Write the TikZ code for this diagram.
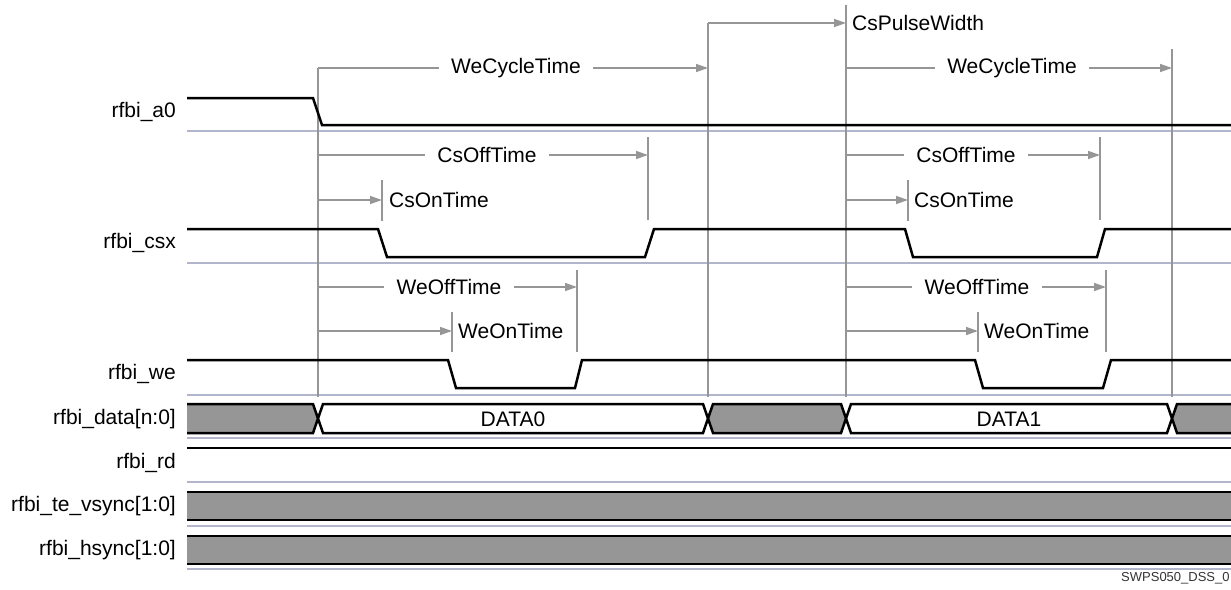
\documentclass[tikz,border=0pt]{standalone}
\usepackage{fontspec}
\setmainfont{Liberation Sans}
\usetikzlibrary{arrows.meta}
\definecolor{tline}{RGB}{150,150,150}
\definecolor{sepc}{RGB}{178,182,204}
\definecolor{busfill}{RGB}{150,150,150}
\tikzset{
  sig/.style={line width=2.5pt, black, line join=miter},
  sepline/.style={line width=2pt, sepc},
  tl/.style={line width=1.5pt, tline},
  tarr/.style={tl, -{Triangle[length=12pt,width=8pt]}},
  signame/.style={font=\fontsize{21}{25}\selectfont, inner sep=0pt, anchor=east},
  midlab/.style={font=\fontsize{21}{25}\selectfont, inner ysep=0pt, inner xsep=12pt},
  sidelab/.style={font=\fontsize{21}{25}\selectfont, inner sep=0pt, anchor=west},
  buslab/.style={font=\fontsize{21}{25}\selectfont, inner sep=0pt},
  busgray/.style={fill=busfill, draw=black, line width=2.5pt, line join=miter},
  buswhite/.style={fill=white, draw=black, line width=2.5pt, line join=miter},
}
\begin{document}
\begin{tikzpicture}[x=1pt,y=-1pt]
\useasboundingbox (0,0) rectangle (1231,589);

% ---------- separators ----------
\foreach \yy in {131,263,395,438,482,526,569}
  \draw[sepline] (187,\yy) -- (1231,\yy);

% ---------- signal names ----------
\node[signame] (n_a0)   at (176,112) {rfbi\_a0};
\node[signame] (n_csx)  at (176,243) {rfbi\_csx};
\node[signame] (n_we)   at (176,374) {rfbi\_we};
\node[signame] (n_data) at (176,419) {rfbi\_data[n:0]};
\node[signame] (n_rd)   at (176,463) {rfbi\_rd};
\node[signame] (n_te)   at (176,506) {rfbi\_te\_vsync[1:0]};
\node[signame] (n_hs)   at (176,550) {rfbi\_hsync[1:0]};

% ---------- reference verticals ----------
\coordinate (v1t) at (318,68);   \coordinate (v1b) at (318,397);
\coordinate (v2t) at (708,23);   \coordinate (v2b) at (708,397);
\coordinate (v3t) at (846,5);    \coordinate (v3b) at (846,397);
\coordinate (v4t) at (1172,49);  \coordinate (v4b) at (1172,397);
\draw[tl] (v1t) -- (v1b);
\draw[tl] (v2t) -- (v2b);
\draw[tl] (v3t) -- (v3b);
\draw[tl] (v4t) -- (v4b);

% ---------- CsPulseWidth ----------
\coordinate (cpw) at (846,23);
\draw[tarr] (v2t) -- (cpw);
\node[sidelab] (l_cpw) at (852,23) {CsPulseWidth};

% ---------- WeCycleTime ----------
\node[midlab] (l_wc1) at (516,68) {WeCycleTime};
\coordinate (wc1e) at (708,68);
\draw[tl] (v1t) -- (l_wc1.west);
\draw[tarr] (l_wc1.east) -- (wc1e);

\coordinate (wc2s) at (846,68);
\coordinate (wc2e) at (1172,68);
\node[midlab] (l_wc2) at (1012,68) {WeCycleTime};
\draw[tl] (wc2s) -- (l_wc2.west);
\draw[tarr] (l_wc2.east) -- (wc2e);

% ---------- CsOffTime / CsOnTime (cycle 1) ----------
\coordinate (co1s) at (318,155);
\coordinate (co1e) at (648,155);
\draw[tl] (648,137) -- (648,220);
\node[midlab] (l_coff1) at (487,155) {CsOffTime};
\draw[tl] (co1s) -- (l_coff1.west);
\draw[tarr] (l_coff1.east) -- (co1e);

\coordinate (con1s) at (318,200);
\coordinate (con1e) at (382,200);
\draw[tl] (382,180) -- (382,221);
\draw[tarr] (con1s) -- (con1e);
\node[sidelab] (l_con1) at (389,200) {CsOnTime};

% ---------- CsOffTime / CsOnTime (cycle 2) ----------
\coordinate (co2s) at (846,155);
\coordinate (co2e) at (1100,155);
\draw[tl] (1100,137) -- (1100,220);
\node[midlab] (l_coff2) at (966,155) {CsOffTime};
\draw[tl] (co2s) -- (l_coff2.west);
\draw[tarr] (l_coff2.east) -- (co2e);

\coordinate (con2s) at (846,200);
\coordinate (con2e) at (908,200);
\draw[tl] (908,180) -- (908,221);
\draw[tarr] (con2s) -- (con2e);
\node[sidelab] (l_con2) at (914,200) {CsOnTime};

% ---------- WeOffTime / WeOnTime (cycle 1) ----------
\coordinate (wo1s) at (318,287);
\coordinate (wo1e) at (577,287);
\draw[tl] (577,270) -- (577,352);
\node[midlab] (l_woff1) at (449,287) {WeOffTime};
\draw[tl] (wo1s) -- (l_woff1.west);
\draw[tarr] (l_woff1.east) -- (wo1e);

\coordinate (won1s) at (318,331);
\coordinate (won1e) at (452,331);
\draw[tl] (452,312) -- (452,352);
\draw[tarr] (won1s) -- (won1e);
\node[sidelab] (l_won1) at (458,331) {WeOnTime};

% ---------- WeOffTime / WeOnTime (cycle 2) ----------
\coordinate (wo2s) at (846,287);
\coordinate (wo2e) at (1106,287);
\draw[tl] (1106,270) -- (1106,352);
\node[midlab] (l_woff2) at (977,287) {WeOffTime};
\draw[tl] (wo2s) -- (l_woff2.west);
\draw[tarr] (l_woff2.east) -- (wo2e);

\coordinate (won2s) at (846,331);
\coordinate (won2e) at (978,331);
\draw[tl] (978,312) -- (978,352);
\draw[tarr] (won2s) -- (won2e);
\node[sidelab] (l_won2) at (984,331) {WeOnTime};

% ---------- rfbi_a0 ----------
\draw[sig] (187,98) -- (313,98) -- (322,125) -- (1231,125);

% ---------- rfbi_csx ----------
\draw[sig] (187,229) -- (378,229) -- (387,257) -- (645,257) -- (654,229)
  -- (905,229) -- (913,257) -- (1097,257) -- (1105,229) -- (1231,229);

% ---------- rfbi_we ----------
\draw[sig] (187,360) -- (448,360) -- (456,388) -- (575,388) -- (582,360)
  -- (975,360) -- (983,388) -- (1103,388) -- (1111,360) -- (1231,360);

% ---------- rfbi_data ----------
\fill[busfill] (187,404) -- (313,404) -- (318,418.5) -- (313,433) -- (187,433) -- cycle;
\draw[sig] (187,404) -- (313,404) -- (318,418.5) -- (313,433) -- (187,433);
\draw[buswhite] (323,404) -- (703,404) -- (708,418.5) -- (703,433) -- (323,433) -- (318,418.5) -- cycle;
\draw[busgray] (713,404) -- (841,404) -- (846,418.5) -- (841,433) -- (713,433) -- (708,418.5) -- cycle;
\draw[buswhite] (851,404) -- (1167,404) -- (1172,418.5) -- (1167,433) -- (851,433) -- (846,418.5) -- cycle;
\fill[busfill] (1231,404) -- (1177,404) -- (1172,418.5) -- (1177,433) -- (1231,433) -- cycle;
\draw[sig] (1231,404) -- (1177,404) -- (1172,418.5) -- (1177,433) -- (1231,433);
\node[buslab] (d0) at (513,419) {DATA0};
\node[buslab] (d1) at (1009,419) {DATA1};

% ---------- rfbi_rd ----------
\draw[sig] (187,448) -- (1231,448);

% ---------- rfbi_te_vsync / rfbi_hsync ----------
\fill[busfill] (187,492) rectangle (1231,520);
\draw[sig] (187,492) -- (1231,492);
\draw[sig] (187,520) -- (1231,520);
\fill[busfill] (187,536) rectangle (1231,564);
\draw[sig] (187,536) -- (1231,536);
\draw[sig] (187,564) -- (1231,564);

% ---------- figure id ----------
\node[font=\fontsize{13}{15}\selectfont, inner sep=0pt, anchor=west, text=black!80] (figid) at (1121,578) {SWPS050\_DSS\_0};
\end{tikzpicture}
\end{document}
